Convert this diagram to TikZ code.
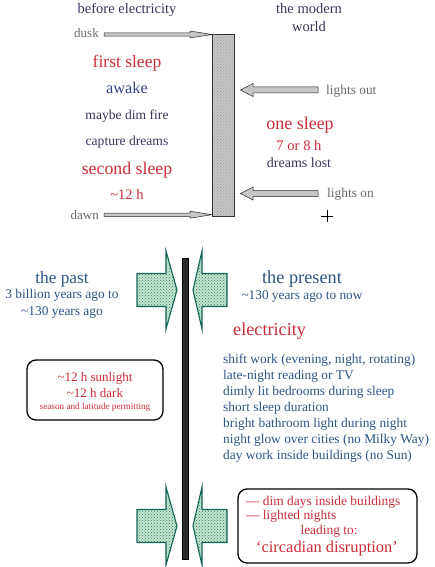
\documentclass[tikz,border=0pt]{standalone}
\usepackage{fontspec}
\setmainfont{Liberation Serif}
\usetikzlibrary{patterns}
\definecolor{navy}{RGB}{55,55,95}
\definecolor{sred}{RGB}{205,45,55}
\definecolor{sblue}{RGB}{55,70,140}
\definecolor{lgray}{RGB}{105,105,105}
\definecolor{pblue}{RGB}{45,85,135}
\definecolor{arrowteal}{RGB}{20,100,90}
\definecolor{arrowgreen}{RGB}{200,230,210}
\definecolor{dotgreen}{RGB}{40,125,85}
\newcommand{\fs}[1]{\fontsize{#1}{#1}\selectfont}
\begin{document}
\begin{tikzpicture}[x=1pt,y=-1pt,
  txt/.style={inner sep=0pt, anchor=base},
  ltxt/.style={inner sep=0pt, anchor=base west},
  rtxt/.style={inner sep=0pt, anchor=base east},
  roundbox/.style={draw=black, line width=1.3pt, rounded corners=9pt},
  thinarrow/.style={fill=gray!45, draw=gray!30!black, line width=0.5pt},
  blockarrowfill/.style={fill=arrowgreen},
  blockarrowdots/.style={pattern=crosshatch dots, pattern color=dotgreen},
  blockarrowline/.style={draw=arrowteal, line width=1.1pt, line join=miter},
  pics/blockR/.style={code={
    \path[blockarrowfill] (-40,-16.5) -- (-11,-16.5) -- (-11,-39) -- (0,0) -- (-11,39) -- (-11,16.5) -- (-40,16.5) -- cycle;
    \path[blockarrowdots] (-40,-16.5) -- (-11,-16.5) -- (-11,-39) -- (0,0) -- (-11,39) -- (-11,16.5) -- (-40,16.5) -- cycle;
    \path[blockarrowline] (-40,-16.5) -- (-11,-16.5) -- (-11,-39) -- (0,0) -- (-11,39) -- (-11,16.5) -- (-40,16.5) -- cycle;
  }},
  pics/blockL/.style={code={
    \path[blockarrowfill] (34,-16.5) -- (9,-16.5) -- (9,-39) -- (0,0) -- (9,39) -- (9,16.5) -- (34,16.5) -- cycle;
    \path[blockarrowdots] (34,-16.5) -- (9,-16.5) -- (9,-39) -- (0,0) -- (9,39) -- (9,16.5) -- (34,16.5) -- cycle;
    \path[blockarrowline] (34,-16.5) -- (9,-16.5) -- (9,-39) -- (0,0) -- (9,39) -- (9,16.5) -- (34,16.5) -- cycle;
  }}
]
\useasboundingbox (0,0) rectangle (435,567);
\fill[white] (0,0) rectangle (435,567);

% ---------- top part ----------
\node[txt, navy] (before) at (127,14) {\fs{14.5}before electricity};
\node[txt, navy] (modern1) at (309,14) {\fs{14.5}the modern};
\node[txt, navy] (modern2) at (309,32) {\fs{14.5}world};

% grey bar
\fill[gray!45] (212.5,34) rectangle (234,216);
\fill[pattern=crosshatch dots, pattern color=gray!75] (212.5,34) rectangle (234,216);
\draw[gray!40!black, line width=0.6pt] (212.5,34) rectangle (234,216);

\node[rtxt, lgray] (dusk) at (99,38) {\fs{13}dusk};
\node[rtxt, lgray] (dawn) at (99,219) {\fs{13}dawn};
\draw[thinarrow] (104,32.8) -- (190,32.8) -- (190,31) -- (212,34.5) -- (190,38) -- (190,36.2) -- (104,36.2) -- cycle;
\draw[thinarrow] (104,213) -- (190,213) -- (190,211.2) -- (212,214.7) -- (190,218.2) -- (190,216.4) -- (104,216.4) -- cycle;

\node[txt, sred] (first) at (127,68) {\fs{17.5}first sleep};
\node[txt, sblue] (awake) at (127,94) {\fs{16.3}awake};
\node[txt, navy] (fire) at (127,120) {\fs{13.6}maybe dim fire};
\node[txt, navy] (capture) at (127,146) {\fs{13.6}capture dreams};
\node[txt, sred] (second) at (127,174) {\fs{17.8}second sleep};
\node[txt, sred] (twelve) at (127,199) {\fs{14.5}\char"007E 12 h};

% lights out / on arrows
\draw[thinarrow] (318,87) -- (253,87) -- (253,83.5) -- (240.5,90) -- (253,96.5) -- (253,93) -- (318,93) -- cycle;
\draw[thinarrow] (318,190.5) -- (253,190.5) -- (253,187) -- (240.5,193.5) -- (253,200) -- (253,196.5) -- (318,196.5) -- cycle;
\node[ltxt, lgray] (lout) at (326,95) {\fs{13.4}lights out};
\node[ltxt, lgray] (lon) at (327,197) {\fs{13.4}lights on};

\node[txt, sred] (one) at (300,129) {\fs{18}one sleep};
\node[txt, sred] (seven) at (299,150) {\fs{14.6}7 or 8 h};
\node[txt, navy] (lost) at (299,167) {\fs{14}dreams lost};

% cursor
\coordinate (cur) at (327,216);
\draw[black, line width=0.6pt] ([xshift=-6pt]cur) -- ([xshift=6pt]cur) ([yshift=-6pt]cur) -- ([yshift=6pt]cur);

% ---------- bottom part ----------
\fill[gray!35!black] (182,258) rectangle (188,559);
\draw[black, line width=0.4pt] (182,258) rectangle (188,559);

\pic at (177,290) {blockR};
\pic at (193,290) {blockL};
\pic at (177,526) {blockR};
\pic at (193,526) {blockL};

\node[txt, pblue] (past) at (62,283) {\fs{17.3}the past};
\node[txt, pblue] (past1) at (62,298) {\fs{13.4}3 billion years ago to};
\node[txt, pblue] (past2) at (62,315) {\fs{13.4}\char"007E 130 years ago};

\draw[roundbox] (27,360) rectangle (163,420);
\node[txt, sred] (sun) at (95,381) {\fs{13}\char"007E 12 h sunlight};
\node[txt, sred] (dark) at (95,397) {\fs{13}\char"007E 12 h dark};
\node[txt, sred] (season) at (95,409) {\fs{9.2}season and latitude permitting};

\node[txt, pblue] (present) at (302,283) {\fs{18.3}the present};
\node[txt, pblue] (present1) at (302,299) {\fs{13.3}\char"007E 130 years ago to now};

\node[ltxt, sred] (elec) at (233,335) {\fs{18.2}electricity};
\node[ltxt, pblue] (l1) at (223,363) {\fs{13.4}shift work (evening, night, rotating)};
\node[ltxt, pblue] (l2) at (223,379) {\fs{13.4}late-night reading or TV};
\node[ltxt, pblue] (l3) at (223,395) {\fs{13.4}dimly lit bedrooms during sleep};
\node[ltxt, pblue] (l4) at (223,411) {\fs{13.4}short sleep duration};
\node[ltxt, pblue] (l5) at (223,427) {\fs{13.4}bright bathroom light during night};
\node[ltxt, pblue] (l6) at (223,443) {\fs{13.4}night glow over cities (no Milky Way)};
\node[ltxt, pblue] (l7) at (223,459) {\fs{13.4}day work inside buildings (no Sun)};

\draw[roundbox] (238,489) rectangle (417,563);
\node[ltxt, sred] (dim) at (246,505) {\fs{13.4}— dim days inside buildings};
\node[ltxt, sred] (lighted) at (246,519) {\fs{13.4}— lighted nights};
\node[txt, sred] (leading) at (329,534) {\fs{13.4}leading to:};
\node[txt, sred] (circ) at (327,552) {\fs{16.4}‘circadian disruption’};
\end{tikzpicture}
\end{document}
